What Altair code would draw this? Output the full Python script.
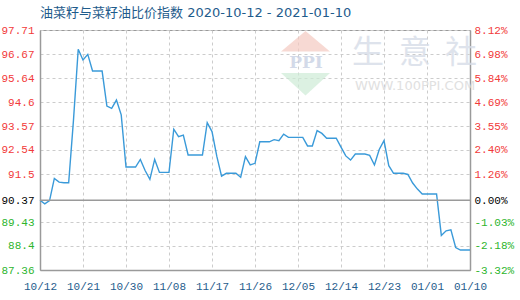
import altair as alt
import pandas as pd

# Rapeseed / rapeseed-oil price ratio index, daily
START = "2020-10-12"
VALUES = [
    90.37, 90.21, 90.35, 91.31, 91.15, 91.12, 91.12, 93.80, 96.88, 96.42,
    96.66, 95.94, 95.94, 95.94, 94.43, 94.33, 94.69, 94.05, 91.80, 91.80,
    91.80, 92.13, 91.65, 91.27, 92.13, 91.57, 91.57, 91.57, 93.43, 93.11,
    93.18, 92.32, 92.32, 92.32, 92.32, 93.71, 93.33, 92.27, 91.41, 91.53,
    91.53, 91.53, 91.36, 92.25, 91.89, 91.96, 92.89, 92.89, 92.89, 92.98,
    92.94, 93.22, 93.08, 93.08, 93.08, 93.08, 92.71, 92.71, 93.37, 93.25,
    93.04, 93.04, 93.04, 92.66, 92.28, 92.10, 92.36, 92.36, 92.36, 92.30,
    91.89, 92.56, 92.94, 91.86, 91.53, 91.53, 91.53, 91.48, 91.11, 90.85,
    90.64, 90.64, 90.64, 90.64, 88.85, 89.05, 89.09, 88.33, 88.22, 88.22,
    88.22,
]
BASE = 90.37
LEFT_TICKS = [87.36, 88.4, 89.43, 90.37, 91.5, 92.54, 93.57, 94.6, 95.64, 96.67, 97.71]
RIGHT_LABELS = ["-3.32%", "-2.18%", "-1.03%", "0.00%", "1.26%", "2.40%",
                "3.55%", "4.69%", "5.84%", "6.98%", "8.12%"]
X_TICKS = ["2020-10-12", "2020-10-21", "2020-10-30", "2020-11-08", "2020-11-17",
           "2020-11-26", "2020-12-05", "2020-12-14", "2020-12-23", "2021-01-01",
           "2021-01-10"]
TITLE = "油菜籽与菜籽油比价指数 2020-10-12 - 2021-01-10"

RED = "#f23a3a"
GREEN = "#2db52d"
BLUE_TXT = "#1f5c8c"
LINE = "#3a9ad9"
GRID = "#cccccc"
FRAME = "#9a9a9a"
MONO = "Liberation Mono"

dates = pd.date_range(START, periods=len(VALUES), freq="D")
df = pd.DataFrame({"date": dates.strftime("%Y/%m/%d"), "value": VALUES})


def dt(s):
    y, m, d = (int(p) for p in s.split("-"))
    return alt.DateTime(year=y, month=m, date=d)


y_scale = alt.Scale(domain=[LEFT_TICKS[0], LEFT_TICKS[-1]], nice=False, zero=False)
x_scale = alt.Scale(domain=[dt(X_TICKS[0]), dt(X_TICKS[-1])], nice=False)

lo, hi = BASE - 0.05, BASE + 0.05
side_color = {
    "condition": [
        {"test": f"datum.value > {hi}", "value": RED},
        {"test": f"datum.value < {lo}", "value": GREEN},
    ],
    "value": "black",
}

x_axis = alt.Axis(
    values=[dt(s) for s in X_TICKS], format="%m/%d", title=None,
    labelFont=MONO, labelFontSize=11, labelColor=BLUE_TXT, labelPadding=10,
    labelFlush=False, labelOverlap=False, tickSize=0,
    grid=True, gridColor=GRID, gridDash=[3, 3], gridWidth=1,
    domainColor=FRAME, domainWidth=1.5,
)

left_axis = alt.Axis(
    values=LEFT_TICKS, format=".2~f", title=None, orient="left",
    labelFont=MONO, labelFontSize=11, labelColor=side_color, labelPadding=6,
    tickSize=0, grid=True, gridColor=GRID, gridDash=[3, 3], gridWidth=1,
    domainColor=FRAME, domainWidth=1.5,
)

ticks_js = "[" + ",".join(str(v) for v in LEFT_TICKS) + "]"
labels_js = "[" + ",".join(f"'{s}'" for s in RIGHT_LABELS) + "]"
right_axis = alt.Axis(
    values=LEFT_TICKS, title=None, orient="right",
    labelExpr=f"{labels_js}[indexof({ticks_js}, datum.value)]",
    labelFont=MONO, labelFontSize=11, labelColor=side_color, labelPadding=4,
    tickSize=0, grid=False, domainColor=FRAME, domainWidth=1.5,
)

line = alt.Chart(df).mark_line(color=LINE, strokeWidth=1.4).encode(
    x=alt.X("date:T", scale=x_scale, axis=x_axis),
    y=alt.Y("value:Q", scale=y_scale, axis=left_axis),
)

baseline = alt.Chart(pd.DataFrame({"base": [BASE]})).mark_rule(
    color=FRAME, strokeWidth=1.5
).encode(y=alt.Y("base:Q", scale=y_scale, axis=right_axis))

# faint site watermark
wm = []
tri_up = "M0,-0.42L1,0.42L-1,0.42Z"
tri_dn = "M-1,-0.46L1,-0.46L0,0.46Z"
one = pd.DataFrame({"k": [0]})
wm.append(alt.Chart(one).mark_point(shape=tri_up, filled=True, size=2401,
                                    color="#f4c9c0", opacity=0.7)
          .encode(x=alt.value(265.5), y=alt.value(11.3)))
wm.append(alt.Chart(one).mark_point(shape=tri_dn, filled=True, size=2401,
                                    color="#cdebd5", opacity=0.7)
          .encode(x=alt.value(265.5), y=alt.value(54.3)))
wm.append(alt.Chart(pd.DataFrame({"t": ["PPI"]})).mark_text(
    font="DejaVu Serif", fontSize=17, fontWeight="bold", color="#c9d2e4", opacity=0.8)
    .encode(x=alt.value(266), y=alt.value(33), text="t:N"))
for ch, cx in zip(["生", "意", "社"], [328, 375, 421]):
    wm.append(alt.Chart(pd.DataFrame({"t": [ch]})).mark_text(
        font="Noto Sans CJK SC", fontSize=32, color="#d7dde8", opacity=0.8)
        .encode(x=alt.value(cx), y=alt.value(22.5), text="t:N"))
wm.append(alt.Chart(pd.DataFrame({"t": ["WWW.100PPI.COM"]})).mark_text(
    font="DejaVu Sans", fontSize=13, color="#dddddd", opacity=0.9)
    .encode(x=alt.value(375), y=alt.value(56), text="t:N"))

chart = (
    alt.layer(*wm, line, baseline)
    .resolve_axis(y="independent")
    .properties(
        width=430, height=240,
        autosize=alt.AutoSizeParams(type="none"),
        padding={"left": 40, "top": 30, "right": 50, "bottom": 30},
        title=alt.Title(TITLE, anchor="start", frame="group", offset=4,
                        font="DejaVu Sans, Noto Sans CJK SC", fontSize=13,
                        fontWeight="normal", color=BLUE_TXT),
    )
    .configure_view(stroke=FRAME, strokeWidth=1)
)

chart.save("out.html", embed_options={"renderer": "svg", "actions": False})
